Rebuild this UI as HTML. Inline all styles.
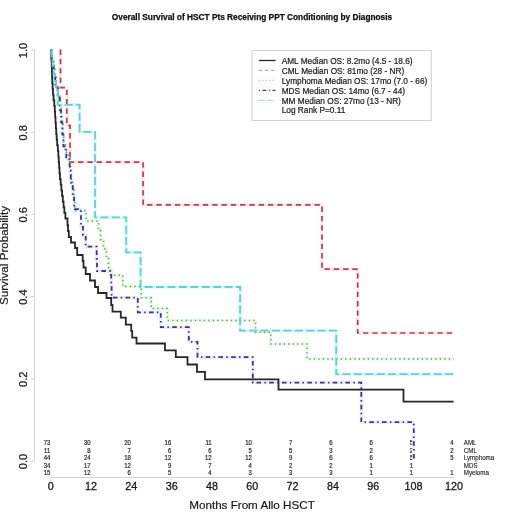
<!DOCTYPE html>
<html><head><meta charset="utf-8"><title>Overall Survival</title>
<style>html,body{margin:0;padding:0;background:#fff;width:520px;height:520px;overflow:hidden}svg{display:block;will-change:transform}</style>
</head><body>
<svg width="520" height="520" viewBox="0 0 520 520">
<rect width="520" height="520" fill="#fff"/>
<g>
<text x="252" y="20.3" text-anchor="middle" font-family='"Liberation Sans", sans-serif' font-weight="bold" font-size="8.3" fill="#111" stroke="#111" stroke-width="0.25">Overall Survival of HSCT Pts Receiving PPT Conditioning by Diagnosis</text>
<g stroke="#d3d3d3" stroke-width="1" fill="none">
<path d="M34.5,460.50 L34.5,49.50"/>
<path d="M31,461.00 L34.5,461.00"/>
<path d="M31,378.80 L34.5,378.80"/>
<path d="M31,296.60 L34.5,296.60"/>
<path d="M31,214.40 L34.5,214.40"/>
<path d="M31,132.20 L34.5,132.20"/>
<path d="M31,50.00 L34.5,50.00"/>
<path d="M50.70,477.5 L453.90,477.5"/>
</g>
<g stroke="#e6e6e6" stroke-width="1" fill="none">
<path d="M50.70,478 L50.70,480"/>
<path d="M91.02,478 L91.02,480"/>
<path d="M131.34,478 L131.34,480"/>
<path d="M171.66,478 L171.66,480"/>
<path d="M211.98,478 L211.98,480"/>
<path d="M252.30,478 L252.30,480"/>
<path d="M292.62,478 L292.62,480"/>
<path d="M332.94,478 L332.94,480"/>
<path d="M373.26,478 L373.26,480"/>
<path d="M413.58,478 L413.58,480"/>
<path d="M453.90,478 L453.90,480"/>
</g>
<text transform="translate(27.1,461.50) rotate(-90)" text-anchor="middle" font-family='"Liberation Sans", sans-serif' font-size="11.1" fill="#1a1a1a" stroke="#1a1a1a" stroke-width="0.25">0.0</text>
<text transform="translate(27.1,379.30) rotate(-90)" text-anchor="middle" font-family='"Liberation Sans", sans-serif' font-size="11.1" fill="#1a1a1a" stroke="#1a1a1a" stroke-width="0.25">0.2</text>
<text transform="translate(27.1,297.10) rotate(-90)" text-anchor="middle" font-family='"Liberation Sans", sans-serif' font-size="11.1" fill="#1a1a1a" stroke="#1a1a1a" stroke-width="0.25">0.4</text>
<text transform="translate(27.1,214.90) rotate(-90)" text-anchor="middle" font-family='"Liberation Sans", sans-serif' font-size="11.1" fill="#1a1a1a" stroke="#1a1a1a" stroke-width="0.25">0.6</text>
<text transform="translate(27.1,132.70) rotate(-90)" text-anchor="middle" font-family='"Liberation Sans", sans-serif' font-size="11.1" fill="#1a1a1a" stroke="#1a1a1a" stroke-width="0.25">0.8</text>
<text transform="translate(27.1,50.50) rotate(-90)" text-anchor="middle" font-family='"Liberation Sans", sans-serif' font-size="11.1" fill="#1a1a1a" stroke="#1a1a1a" stroke-width="0.25">1.0</text>
<text x="50.70" y="489.6" text-anchor="middle" font-family='"Liberation Sans", sans-serif' font-size="10.8" fill="#1a1a1a" stroke="#1a1a1a" stroke-width="0.3">0</text>
<text x="91.02" y="489.6" text-anchor="middle" font-family='"Liberation Sans", sans-serif' font-size="10.8" fill="#1a1a1a" stroke="#1a1a1a" stroke-width="0.3">12</text>
<text x="131.34" y="489.6" text-anchor="middle" font-family='"Liberation Sans", sans-serif' font-size="10.8" fill="#1a1a1a" stroke="#1a1a1a" stroke-width="0.3">24</text>
<text x="171.66" y="489.6" text-anchor="middle" font-family='"Liberation Sans", sans-serif' font-size="10.8" fill="#1a1a1a" stroke="#1a1a1a" stroke-width="0.3">36</text>
<text x="211.98" y="489.6" text-anchor="middle" font-family='"Liberation Sans", sans-serif' font-size="10.8" fill="#1a1a1a" stroke="#1a1a1a" stroke-width="0.3">48</text>
<text x="252.30" y="489.6" text-anchor="middle" font-family='"Liberation Sans", sans-serif' font-size="10.8" fill="#1a1a1a" stroke="#1a1a1a" stroke-width="0.3">60</text>
<text x="292.62" y="489.6" text-anchor="middle" font-family='"Liberation Sans", sans-serif' font-size="10.8" fill="#1a1a1a" stroke="#1a1a1a" stroke-width="0.3">72</text>
<text x="332.94" y="489.6" text-anchor="middle" font-family='"Liberation Sans", sans-serif' font-size="10.8" fill="#1a1a1a" stroke="#1a1a1a" stroke-width="0.3">84</text>
<text x="373.26" y="489.6" text-anchor="middle" font-family='"Liberation Sans", sans-serif' font-size="10.8" fill="#1a1a1a" stroke="#1a1a1a" stroke-width="0.3">96</text>
<text x="413.58" y="489.6" text-anchor="middle" font-family='"Liberation Sans", sans-serif' font-size="10.8" fill="#1a1a1a" stroke="#1a1a1a" stroke-width="0.3">108</text>
<text x="453.90" y="489.6" text-anchor="middle" font-family='"Liberation Sans", sans-serif' font-size="10.8" fill="#1a1a1a" stroke="#1a1a1a" stroke-width="0.3">120</text>
<text x="252" y="509.1" text-anchor="middle" font-family='"Liberation Sans", sans-serif' font-size="11.65" fill="#1a1a1a" stroke="#1a1a1a" stroke-width="0.2">Months From Allo HSCT</text>
<text transform="translate(8.2,255.5) rotate(-90)" text-anchor="middle" font-family='"Liberation Sans", sans-serif' font-size="11.65" fill="#1a1a1a" stroke="#1a1a1a" stroke-width="0.2">Survival Probability</text>
<text transform="translate(50.30,445.10) scale(0.88,1)" text-anchor="end" font-family='"Liberation Sans", sans-serif' font-size="6.8" fill="#2a2a2a" stroke="#2a2a2a" stroke-width="0.22">73</text>
<text transform="translate(90.62,445.10) scale(0.88,1)" text-anchor="end" font-family='"Liberation Sans", sans-serif' font-size="6.8" fill="#2a2a2a" stroke="#2a2a2a" stroke-width="0.22">30</text>
<text transform="translate(130.94,445.10) scale(0.88,1)" text-anchor="end" font-family='"Liberation Sans", sans-serif' font-size="6.8" fill="#2a2a2a" stroke="#2a2a2a" stroke-width="0.22">20</text>
<text transform="translate(171.26,445.10) scale(0.88,1)" text-anchor="end" font-family='"Liberation Sans", sans-serif' font-size="6.8" fill="#2a2a2a" stroke="#2a2a2a" stroke-width="0.22">16</text>
<text transform="translate(211.58,445.10) scale(0.88,1)" text-anchor="end" font-family='"Liberation Sans", sans-serif' font-size="6.8" fill="#2a2a2a" stroke="#2a2a2a" stroke-width="0.22">11</text>
<text transform="translate(251.90,445.10) scale(0.88,1)" text-anchor="end" font-family='"Liberation Sans", sans-serif' font-size="6.8" fill="#2a2a2a" stroke="#2a2a2a" stroke-width="0.22">10</text>
<text transform="translate(292.22,445.10) scale(0.88,1)" text-anchor="end" font-family='"Liberation Sans", sans-serif' font-size="6.8" fill="#2a2a2a" stroke="#2a2a2a" stroke-width="0.22">7</text>
<text transform="translate(332.54,445.10) scale(0.88,1)" text-anchor="end" font-family='"Liberation Sans", sans-serif' font-size="6.8" fill="#2a2a2a" stroke="#2a2a2a" stroke-width="0.22">6</text>
<text transform="translate(372.86,445.10) scale(0.88,1)" text-anchor="end" font-family='"Liberation Sans", sans-serif' font-size="6.8" fill="#2a2a2a" stroke="#2a2a2a" stroke-width="0.22">6</text>
<text transform="translate(413.18,445.10) scale(0.88,1)" text-anchor="end" font-family='"Liberation Sans", sans-serif' font-size="6.8" fill="#2a2a2a" stroke="#2a2a2a" stroke-width="0.22">5</text>
<text transform="translate(453.50,445.10) scale(0.88,1)" text-anchor="end" font-family='"Liberation Sans", sans-serif' font-size="6.8" fill="#2a2a2a" stroke="#2a2a2a" stroke-width="0.22">4</text>
<text transform="translate(463.8,445.10) scale(0.91,1)" font-family='"Liberation Sans", sans-serif' font-size="6.8" fill="#1a1a1a" stroke="#1a1a1a" stroke-width="0.12">AML</text>
<text transform="translate(50.30,452.60) scale(0.88,1)" text-anchor="end" font-family='"Liberation Sans", sans-serif' font-size="6.8" fill="#2a2a2a" stroke="#2a2a2a" stroke-width="0.22">11</text>
<text transform="translate(90.62,452.60) scale(0.88,1)" text-anchor="end" font-family='"Liberation Sans", sans-serif' font-size="6.8" fill="#2a2a2a" stroke="#2a2a2a" stroke-width="0.22">8</text>
<text transform="translate(130.94,452.60) scale(0.88,1)" text-anchor="end" font-family='"Liberation Sans", sans-serif' font-size="6.8" fill="#2a2a2a" stroke="#2a2a2a" stroke-width="0.22">7</text>
<text transform="translate(171.26,452.60) scale(0.88,1)" text-anchor="end" font-family='"Liberation Sans", sans-serif' font-size="6.8" fill="#2a2a2a" stroke="#2a2a2a" stroke-width="0.22">6</text>
<text transform="translate(211.58,452.60) scale(0.88,1)" text-anchor="end" font-family='"Liberation Sans", sans-serif' font-size="6.8" fill="#2a2a2a" stroke="#2a2a2a" stroke-width="0.22">6</text>
<text transform="translate(251.90,452.60) scale(0.88,1)" text-anchor="end" font-family='"Liberation Sans", sans-serif' font-size="6.8" fill="#2a2a2a" stroke="#2a2a2a" stroke-width="0.22">5</text>
<text transform="translate(292.22,452.60) scale(0.88,1)" text-anchor="end" font-family='"Liberation Sans", sans-serif' font-size="6.8" fill="#2a2a2a" stroke="#2a2a2a" stroke-width="0.22">5</text>
<text transform="translate(332.54,452.60) scale(0.88,1)" text-anchor="end" font-family='"Liberation Sans", sans-serif' font-size="6.8" fill="#2a2a2a" stroke="#2a2a2a" stroke-width="0.22">3</text>
<text transform="translate(372.86,452.60) scale(0.88,1)" text-anchor="end" font-family='"Liberation Sans", sans-serif' font-size="6.8" fill="#2a2a2a" stroke="#2a2a2a" stroke-width="0.22">2</text>
<text transform="translate(413.18,452.60) scale(0.88,1)" text-anchor="end" font-family='"Liberation Sans", sans-serif' font-size="6.8" fill="#2a2a2a" stroke="#2a2a2a" stroke-width="0.22">2</text>
<text transform="translate(453.50,452.60) scale(0.88,1)" text-anchor="end" font-family='"Liberation Sans", sans-serif' font-size="6.8" fill="#2a2a2a" stroke="#2a2a2a" stroke-width="0.22">2</text>
<text transform="translate(463.8,452.60) scale(0.91,1)" font-family='"Liberation Sans", sans-serif' font-size="6.8" fill="#1a1a1a" stroke="#1a1a1a" stroke-width="0.12">CML</text>
<text transform="translate(50.30,460.10) scale(0.88,1)" text-anchor="end" font-family='"Liberation Sans", sans-serif' font-size="6.8" fill="#2a2a2a" stroke="#2a2a2a" stroke-width="0.22">44</text>
<text transform="translate(90.62,460.10) scale(0.88,1)" text-anchor="end" font-family='"Liberation Sans", sans-serif' font-size="6.8" fill="#2a2a2a" stroke="#2a2a2a" stroke-width="0.22">24</text>
<text transform="translate(130.94,460.10) scale(0.88,1)" text-anchor="end" font-family='"Liberation Sans", sans-serif' font-size="6.8" fill="#2a2a2a" stroke="#2a2a2a" stroke-width="0.22">18</text>
<text transform="translate(171.26,460.10) scale(0.88,1)" text-anchor="end" font-family='"Liberation Sans", sans-serif' font-size="6.8" fill="#2a2a2a" stroke="#2a2a2a" stroke-width="0.22">12</text>
<text transform="translate(211.58,460.10) scale(0.88,1)" text-anchor="end" font-family='"Liberation Sans", sans-serif' font-size="6.8" fill="#2a2a2a" stroke="#2a2a2a" stroke-width="0.22">12</text>
<text transform="translate(251.90,460.10) scale(0.88,1)" text-anchor="end" font-family='"Liberation Sans", sans-serif' font-size="6.8" fill="#2a2a2a" stroke="#2a2a2a" stroke-width="0.22">12</text>
<text transform="translate(292.22,460.10) scale(0.88,1)" text-anchor="end" font-family='"Liberation Sans", sans-serif' font-size="6.8" fill="#2a2a2a" stroke="#2a2a2a" stroke-width="0.22">9</text>
<text transform="translate(332.54,460.10) scale(0.88,1)" text-anchor="end" font-family='"Liberation Sans", sans-serif' font-size="6.8" fill="#2a2a2a" stroke="#2a2a2a" stroke-width="0.22">6</text>
<text transform="translate(372.86,460.10) scale(0.88,1)" text-anchor="end" font-family='"Liberation Sans", sans-serif' font-size="6.8" fill="#2a2a2a" stroke="#2a2a2a" stroke-width="0.22">6</text>
<text transform="translate(413.18,460.10) scale(0.88,1)" text-anchor="end" font-family='"Liberation Sans", sans-serif' font-size="6.8" fill="#2a2a2a" stroke="#2a2a2a" stroke-width="0.22">5</text>
<text transform="translate(453.50,460.10) scale(0.88,1)" text-anchor="end" font-family='"Liberation Sans", sans-serif' font-size="6.8" fill="#2a2a2a" stroke="#2a2a2a" stroke-width="0.22">5</text>
<text transform="translate(463.8,460.10) scale(0.91,1)" font-family='"Liberation Sans", sans-serif' font-size="6.8" fill="#1a1a1a" stroke="#1a1a1a" stroke-width="0.12">Lymphoma</text>
<text transform="translate(50.30,467.60) scale(0.88,1)" text-anchor="end" font-family='"Liberation Sans", sans-serif' font-size="6.8" fill="#2a2a2a" stroke="#2a2a2a" stroke-width="0.22">34</text>
<text transform="translate(90.62,467.60) scale(0.88,1)" text-anchor="end" font-family='"Liberation Sans", sans-serif' font-size="6.8" fill="#2a2a2a" stroke="#2a2a2a" stroke-width="0.22">17</text>
<text transform="translate(130.94,467.60) scale(0.88,1)" text-anchor="end" font-family='"Liberation Sans", sans-serif' font-size="6.8" fill="#2a2a2a" stroke="#2a2a2a" stroke-width="0.22">12</text>
<text transform="translate(171.26,467.60) scale(0.88,1)" text-anchor="end" font-family='"Liberation Sans", sans-serif' font-size="6.8" fill="#2a2a2a" stroke="#2a2a2a" stroke-width="0.22">9</text>
<text transform="translate(211.58,467.60) scale(0.88,1)" text-anchor="end" font-family='"Liberation Sans", sans-serif' font-size="6.8" fill="#2a2a2a" stroke="#2a2a2a" stroke-width="0.22">7</text>
<text transform="translate(251.90,467.60) scale(0.88,1)" text-anchor="end" font-family='"Liberation Sans", sans-serif' font-size="6.8" fill="#2a2a2a" stroke="#2a2a2a" stroke-width="0.22">4</text>
<text transform="translate(292.22,467.60) scale(0.88,1)" text-anchor="end" font-family='"Liberation Sans", sans-serif' font-size="6.8" fill="#2a2a2a" stroke="#2a2a2a" stroke-width="0.22">2</text>
<text transform="translate(332.54,467.60) scale(0.88,1)" text-anchor="end" font-family='"Liberation Sans", sans-serif' font-size="6.8" fill="#2a2a2a" stroke="#2a2a2a" stroke-width="0.22">2</text>
<text transform="translate(372.86,467.60) scale(0.88,1)" text-anchor="end" font-family='"Liberation Sans", sans-serif' font-size="6.8" fill="#2a2a2a" stroke="#2a2a2a" stroke-width="0.22">1</text>
<text transform="translate(413.18,467.60) scale(0.88,1)" text-anchor="end" font-family='"Liberation Sans", sans-serif' font-size="6.8" fill="#2a2a2a" stroke="#2a2a2a" stroke-width="0.22">1</text>
<text transform="translate(463.8,467.60) scale(0.91,1)" font-family='"Liberation Sans", sans-serif' font-size="6.8" fill="#1a1a1a" stroke="#1a1a1a" stroke-width="0.12">MDS</text>
<text transform="translate(50.30,475.20) scale(0.88,1)" text-anchor="end" font-family='"Liberation Sans", sans-serif' font-size="6.8" fill="#2a2a2a" stroke="#2a2a2a" stroke-width="0.22">15</text>
<text transform="translate(90.62,475.20) scale(0.88,1)" text-anchor="end" font-family='"Liberation Sans", sans-serif' font-size="6.8" fill="#2a2a2a" stroke="#2a2a2a" stroke-width="0.22">12</text>
<text transform="translate(130.94,475.20) scale(0.88,1)" text-anchor="end" font-family='"Liberation Sans", sans-serif' font-size="6.8" fill="#2a2a2a" stroke="#2a2a2a" stroke-width="0.22">6</text>
<text transform="translate(171.26,475.20) scale(0.88,1)" text-anchor="end" font-family='"Liberation Sans", sans-serif' font-size="6.8" fill="#2a2a2a" stroke="#2a2a2a" stroke-width="0.22">5</text>
<text transform="translate(211.58,475.20) scale(0.88,1)" text-anchor="end" font-family='"Liberation Sans", sans-serif' font-size="6.8" fill="#2a2a2a" stroke="#2a2a2a" stroke-width="0.22">4</text>
<text transform="translate(251.90,475.20) scale(0.88,1)" text-anchor="end" font-family='"Liberation Sans", sans-serif' font-size="6.8" fill="#2a2a2a" stroke="#2a2a2a" stroke-width="0.22">3</text>
<text transform="translate(292.22,475.20) scale(0.88,1)" text-anchor="end" font-family='"Liberation Sans", sans-serif' font-size="6.8" fill="#2a2a2a" stroke="#2a2a2a" stroke-width="0.22">3</text>
<text transform="translate(332.54,475.20) scale(0.88,1)" text-anchor="end" font-family='"Liberation Sans", sans-serif' font-size="6.8" fill="#2a2a2a" stroke="#2a2a2a" stroke-width="0.22">3</text>
<text transform="translate(372.86,475.20) scale(0.88,1)" text-anchor="end" font-family='"Liberation Sans", sans-serif' font-size="6.8" fill="#2a2a2a" stroke="#2a2a2a" stroke-width="0.22">1</text>
<text transform="translate(413.18,475.20) scale(0.88,1)" text-anchor="end" font-family='"Liberation Sans", sans-serif' font-size="6.8" fill="#2a2a2a" stroke="#2a2a2a" stroke-width="0.22">1</text>
<text transform="translate(453.50,475.20) scale(0.88,1)" text-anchor="end" font-family='"Liberation Sans", sans-serif' font-size="6.8" fill="#2a2a2a" stroke="#2a2a2a" stroke-width="0.22">1</text>
<text transform="translate(463.8,475.20) scale(0.91,1)" font-family='"Liberation Sans", sans-serif' font-size="6.8" fill="#1a1a1a" stroke="#1a1a1a" stroke-width="0.12">Myeloma</text>
<path d="M60.50,49.60 L60.50,87.70 L66.80,87.70 L66.80,125.40 L70.00,125.40 L70.00,162.20 L143.10,162.20 L143.10,204.80 L322.00,204.80 L322.00,269.20 L357.70,269.20 L357.70,333.00 L453.60,333.00" fill="none" stroke="#f9eaed" stroke-width="3.4" stroke-linejoin="round"/>
<path d="M51.60,49.60 L51.60,58.94 L53.70,58.94 L53.70,68.28 L54.87,68.28 L54.87,77.62 L56.04,77.62 L56.04,86.96 L58.05,86.96 L58.05,96.30 L59.93,96.30 L59.93,105.64 L60.95,105.64 L60.95,114.98 L61.96,114.98 L61.96,124.32 L62.83,124.32 L62.83,133.66 L63.69,133.66 L63.69,143.00 L65.21,143.00 L65.21,152.34 L68.45,152.34 L68.45,161.68 L70.45,161.68 L70.45,171.02 L71.24,171.02 L71.24,180.36 L72.64,180.36 L72.64,189.70 L73.87,189.70 L73.87,199.04 L74.86,199.04 L74.86,208.38 L75.30,208.38 L75.30,210.60 L86.00,210.60 L86.00,221.00 L98.50,221.00 L98.50,230.30 L100.50,230.30 L100.50,239.60 L103.50,239.60 L103.50,249.00 L106.50,249.00 L106.50,258.30 L108.50,258.30 L108.50,267.60 L110.50,267.60 L110.50,275.20 L122.80,275.20 L122.80,286.50 L141.20,286.50 L141.20,297.70 L151.20,297.70 L151.20,308.50 L167.30,308.50 L167.30,320.50 L255.50,320.50 L255.50,332.30 L270.80,332.30 L270.80,344.00 L307.00,344.00 L307.00,359.00 L453.60,359.00" fill="none" stroke="#ecf8ec" stroke-width="3.4" stroke-linejoin="round"/>
<path d="M51.30,49.60 L51.30,61.70 L53.72,61.70 L53.72,73.80 L55.24,73.80 L55.24,85.90 L57.64,85.90 L57.64,98.00 L59.77,98.00 L59.77,110.10 L61.08,110.10 L61.08,122.20 L62.26,122.20 L62.26,134.30 L63.37,134.30 L63.37,146.40 L66.28,146.40 L66.28,158.50 L69.68,158.50 L69.68,170.60 L70.78,170.60 L70.78,182.70 L72.76,182.70 L72.76,194.80 L74.06,194.80 L74.06,206.90 L74.80,206.90 L74.80,209.20 L81.00,209.20 L81.00,227.00 L83.00,227.00 L83.00,235.00 L85.70,235.00 L85.70,246.70 L96.70,246.70 L96.70,259.00 L97.00,259.00 L97.00,271.00 L111.20,271.00 L111.20,284.00 L111.60,284.00 L111.60,297.70 L137.80,297.70 L137.80,312.30 L160.80,312.30 L160.80,327.20 L188.80,327.20 L188.80,341.80 L197.50,341.80 L197.50,357.20 L252.80,357.20 L252.80,382.60 L361.30,382.60 L361.30,422.20 L413.80,422.20 L413.80,460.50" fill="none" stroke="#efeef8" stroke-width="3.4" stroke-linejoin="round"/>
<path d="M51.50,49.60 L51.50,58.00 L52.50,58.00 L52.50,66.00 L53.50,66.00 L53.50,74.00 L54.80,74.00 L54.80,81.00 L56.20,81.00 L56.20,87.00 L57.80,87.00 L57.80,104.80 L79.60,104.80 L79.60,131.90 L95.00,131.90 L95.00,217.30 L126.20,217.30 L126.20,252.30 L140.60,252.30 L140.60,287.00 L240.10,287.00 L240.10,330.70 L336.20,330.70 L336.20,374.20 L453.60,374.20" fill="none" stroke="#dcf8f6" stroke-width="3.4" stroke-linejoin="round"/>
<path d="M51.30,49.60 L51.30,55.23 L51.55,55.23 L51.55,60.86 L51.72,60.86 L51.72,66.49 L51.89,66.49 L51.89,72.12 L52.06,72.12 L52.06,77.75 L52.26,77.75 L52.26,83.38 L52.63,83.38 L52.63,89.01 L52.99,89.01 L52.99,94.64 L53.52,94.64 L53.52,100.27 L54.25,100.27 L54.25,105.90 L54.79,105.90 L54.79,111.53 L55.14,111.53 L55.14,117.16 L55.50,117.16 L55.50,122.79 L55.86,122.79 L55.86,128.42 L56.22,128.42 L56.22,134.05 L56.67,134.05 L56.67,139.68 L57.18,139.68 L57.18,145.31 L57.87,145.31 L57.87,150.94 L58.36,150.94 L58.36,156.57 L58.74,156.57 L58.74,162.20 L59.12,162.20 L59.12,167.83 L59.50,167.83 L59.50,173.46 L59.96,173.46 L59.96,179.09 L60.66,179.09 L60.66,184.72 L61.37,184.72 L61.37,190.35 L62.07,190.35 L62.07,195.98 L62.81,195.98 L62.81,201.61 L63.58,201.61 L63.58,207.24 L64.34,207.24 L64.34,212.87 L65.39,212.87 L65.39,218.50 L67.50,218.50 L67.50,225.00 L68.00,225.00 L68.00,231.00 L68.80,231.00 L68.80,237.00 L71.00,237.00 L71.00,242.50 L75.00,242.50 L75.00,248.00 L77.20,248.00 L77.20,255.00 L82.70,255.00 L82.70,261.00 L83.50,261.00 L83.50,267.50 L85.70,267.50 L85.70,274.00 L90.00,274.00 L90.00,280.50 L95.00,280.50 L95.00,287.00 L98.00,287.00 L98.00,293.00 L106.50,293.00 L106.50,298.00 L111.20,298.00 L111.20,305.00 L112.50,305.00 L112.50,311.60 L120.80,311.60 L120.80,317.70 L125.80,317.70 L125.80,324.60 L131.20,324.60 L131.20,330.80 L132.20,330.80 L132.20,337.70 L136.50,337.70 L136.50,343.50 L165.00,343.50 L165.00,350.30 L175.80,350.30 L175.80,357.20 L187.50,357.20 L187.50,364.50 L197.00,364.50 L197.00,371.80 L205.00,371.80 L205.00,379.40 L278.50,379.40 L278.50,389.60 L403.50,389.60 L403.50,401.60 L453.60,401.60" fill="none" stroke="#262626" stroke-width="1.8" stroke-linejoin="miter" stroke-linecap="butt"/>
<path d="M60.50,49.60 L60.50,87.70 L66.80,87.70 L66.80,125.40 L70.00,125.40 L70.00,162.20 L143.10,162.20 L143.10,204.80 L322.00,204.80 L322.00,269.20 L357.70,269.20 L357.70,333.00 L453.60,333.00" fill="none" stroke="#b8404e" stroke-width="1.7" stroke-dasharray="5.3 4.0" stroke-linejoin="miter" stroke-linecap="butt"/>
<path d="M51.60,49.60 L51.60,58.94 L53.70,58.94 L53.70,68.28 L54.87,68.28 L54.87,77.62 L56.04,77.62 L56.04,86.96 L58.05,86.96 L58.05,96.30 L59.93,96.30 L59.93,105.64 L60.95,105.64 L60.95,114.98 L61.96,114.98 L61.96,124.32 L62.83,124.32 L62.83,133.66 L63.69,133.66 L63.69,143.00 L65.21,143.00 L65.21,152.34 L68.45,152.34 L68.45,161.68 L70.45,161.68 L70.45,171.02 L71.24,171.02 L71.24,180.36 L72.64,180.36 L72.64,189.70 L73.87,189.70 L73.87,199.04 L74.86,199.04 L74.86,208.38 L75.30,208.38 L75.30,210.60 L86.00,210.60 L86.00,221.00 L98.50,221.00 L98.50,230.30 L100.50,230.30 L100.50,239.60 L103.50,239.60 L103.50,249.00 L106.50,249.00 L106.50,258.30 L108.50,258.30 L108.50,267.60 L110.50,267.60 L110.50,275.20 L122.80,275.20 L122.80,286.50 L141.20,286.50 L141.20,297.70 L151.20,297.70 L151.20,308.50 L167.30,308.50 L167.30,320.50 L255.50,320.50 L255.50,332.30 L270.80,332.30 L270.80,344.00 L307.00,344.00 L307.00,359.00 L453.60,359.00" fill="none" stroke="#55aa55" stroke-width="1.6" stroke-dasharray="1.4 3.1" stroke-linejoin="miter" stroke-linecap="butt"/>
<path d="M51.30,49.60 L51.30,61.70 L53.72,61.70 L53.72,73.80 L55.24,73.80 L55.24,85.90 L57.64,85.90 L57.64,98.00 L59.77,98.00 L59.77,110.10 L61.08,110.10 L61.08,122.20 L62.26,122.20 L62.26,134.30 L63.37,134.30 L63.37,146.40 L66.28,146.40 L66.28,158.50 L69.68,158.50 L69.68,170.60 L70.78,170.60 L70.78,182.70 L72.76,182.70 L72.76,194.80 L74.06,194.80 L74.06,206.90 L74.80,206.90 L74.80,209.20 L81.00,209.20 L81.00,227.00 L83.00,227.00 L83.00,235.00 L85.70,235.00 L85.70,246.70 L96.70,246.70 L96.70,259.00 L97.00,259.00 L97.00,271.00 L111.20,271.00 L111.20,284.00 L111.60,284.00 L111.60,297.70 L137.80,297.70 L137.80,312.30 L160.80,312.30 L160.80,327.20 L188.80,327.20 L188.80,341.80 L197.50,341.80 L197.50,357.20 L252.80,357.20 L252.80,382.60 L361.30,382.60 L361.30,422.20 L413.80,422.20 L413.80,460.50" fill="none" stroke="#37378c" stroke-width="1.8" stroke-dasharray="1.5 3.3 4.6 3.3" stroke-linejoin="miter" stroke-linecap="butt"/>
<path d="M51.50,49.60 L51.50,58.00 L52.50,58.00 L52.50,66.00 L53.50,66.00 L53.50,74.00 L54.80,74.00 L54.80,81.00 L56.20,81.00 L56.20,87.00 L57.80,87.00 L57.80,104.80 L79.60,104.80 L79.60,131.90 L95.00,131.90 L95.00,217.30 L126.20,217.30 L126.20,252.30 L140.60,252.30 L140.60,287.00 L240.10,287.00 L240.10,330.70 L336.20,330.70 L336.20,374.20 L453.60,374.20" fill="none" stroke="#62d2ce" stroke-width="1.8" stroke-dasharray="8 3.4" stroke-linejoin="miter" stroke-linecap="butt"/>
<rect x="252" y="50.5" width="179.3" height="70" fill="#fff" stroke="#d2d2d2" stroke-width="1"/>
<path d="M258.8,60.50 L275.6,60.50" stroke="#2a2a2a" stroke-width="1.3" fill="none"/>
<text x="281.7" y="63.70" font-family='"Liberation Sans", sans-serif' font-size="8.29" fill="#1a1a1a" stroke="#1a1a1a" stroke-width="0.2">AML Median OS: 8.2mo (4.5 - 18.6)</text>
<path d="M258.8,70.45 L275.6,70.45" stroke="#d49aa2" stroke-width="1.3" stroke-dasharray="3.2 3" fill="none"/>
<text x="281.7" y="73.65" font-family='"Liberation Sans", sans-serif' font-size="8.29" fill="#1a1a1a" stroke="#1a1a1a" stroke-width="0.2">CML Median OS: 81mo (28 - NR)</text>
<path d="M258.8,80.40 L275.6,80.40" stroke="#aad2aa" stroke-width="1.3" stroke-dasharray="1.2 2.2" fill="none"/>
<text x="281.7" y="83.60" font-family='"Liberation Sans", sans-serif' font-size="8.29" fill="#1a1a1a" stroke="#1a1a1a" stroke-width="0.2">Lymphoma Median OS: 17mo (7.0 - 66)</text>
<path d="M258.8,90.35 L275.6,90.35" stroke="#4a4a5c" stroke-width="1.3" stroke-dasharray="1.2 2.4 4 2.4" fill="none"/>
<text x="281.7" y="93.55" font-family='"Liberation Sans", sans-serif' font-size="8.29" fill="#1a1a1a" stroke="#1a1a1a" stroke-width="0.2">MDS Median OS: 14mo (6.7 - 44)</text>
<path d="M258.8,100.30 L275.6,100.30" stroke="#a6e4e2" stroke-width="1.3" stroke-dasharray="6.5 1.8" fill="none"/>
<text x="281.7" y="103.50" font-family='"Liberation Sans", sans-serif' font-size="8.29" fill="#1a1a1a" stroke="#1a1a1a" stroke-width="0.2">MM Median OS: 27mo (13 - NR)</text>
<text x="281.7" y="113.45" font-family='"Liberation Sans", sans-serif' font-size="8.29" fill="#1a1a1a" stroke="#1a1a1a" stroke-width="0.2">Log Rank P=0.11</text>
</g>
</svg>
</body></html>
